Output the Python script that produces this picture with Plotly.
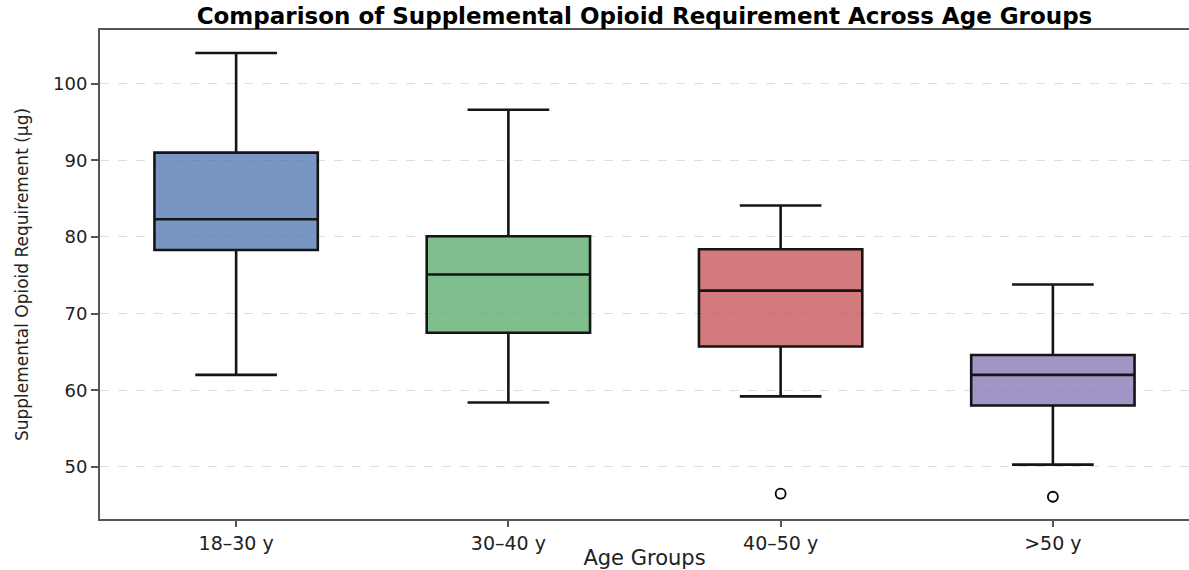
import plotly.graph_objects as go

# Summary statistics per age group (µg)
groups = ["18–30 y", "30–40 y", "40–50 y", ">50 y"]
lower_whisker = [62.0, 58.4, 59.2, 50.3]
q1 = [78.3, 67.5, 65.7, 58.0]
median = [82.3, 75.1, 73.0, 62.0]
q3 = [91.0, 80.1, 78.4, 64.6]
upper_whisker = [104.0, 96.6, 84.1, 73.8]

# Points beyond the whiskers
outlier_groups = ["40–50 y", ">50 y"]
outlier_values = [46.5, 46.1]

fill_colors = [
    "rgba(76,114,176,0.75)",
    "rgba(85,168,104,0.75)",
    "rgba(196,78,82,0.75)",
    "rgba(129,114,178,0.75)",
]

fig = go.Figure()

for i, g in enumerate(groups):
    fig.add_trace(go.Box(
        x=[g],
        q1=[q1[i]],
        median=[median[i]],
        q3=[q3[i]],
        lowerfence=[lower_whisker[i]],
        upperfence=[upper_whisker[i]],
        width=0.6,
        whiskerwidth=0.5,
        fillcolor=fill_colors[i],
        line=dict(color="#151515", width=2.6),
        boxpoints=False,
        showlegend=False,
        hoverinfo="skip",
    ))

fig.add_trace(go.Scatter(
    x=outlier_groups,
    y=outlier_values,
    mode="markers",
    marker=dict(symbol="circle-open", size=10, color="black", line=dict(width=1.8)),
    showlegend=False,
    hoverinfo="skip",
))

fig.update_layout(
    width=1189,
    height=570,
    margin=dict(l=100, r=0, t=30, b=51),
    paper_bgcolor="white",
    plot_bgcolor="white",
    boxmode="overlay",
    title=dict(
        text="<b>Comparison of Supplemental Opioid Requirement Across Age Groups</b>",
        font=dict(family="DejaVu Sans", size=23, color="black"),
        x=0.5, xanchor="center", xref="paper",
        y=0.987, yanchor="top",
    ),
    font=dict(family="DejaVu Sans", color="#222"),
)

fig.update_xaxes(
    categoryorder="array",
    categoryarray=groups,
    range=[-0.5, 3.5],
    showline=True, linecolor="#555", linewidth=2, mirror=True,
    ticks="outside", ticklen=6, tickwidth=1.5, tickcolor="#555",
    tickfont=dict(family="DejaVu Sans", size=19, color="#222"),
    showgrid=False,
    title=dict(text="Age Groups", font=dict(family="DejaVu Sans", size=21, color="#222"), standoff=2),
)

fig.update_yaxes(
    range=[43.2, 107.0],
    tickvals=[50, 60, 70, 80, 90, 100],
    showline=True, linecolor="#555", linewidth=2, mirror=False,
    ticks="outside", ticklen=7, tickwidth=1.5, tickcolor="#555",
    tickfont=dict(family="DejaVu Sans", size=18, color="#222"),
    showgrid=True, gridcolor="#dddddd", griddash="dash", gridwidth=1,
    zeroline=False,
    title=dict(text="Supplemental Opioid Requirement (µg)", font=dict(family="DejaVu Sans", size=17, color="#222"), standoff=20),
)

fig.write_html("out.html")
